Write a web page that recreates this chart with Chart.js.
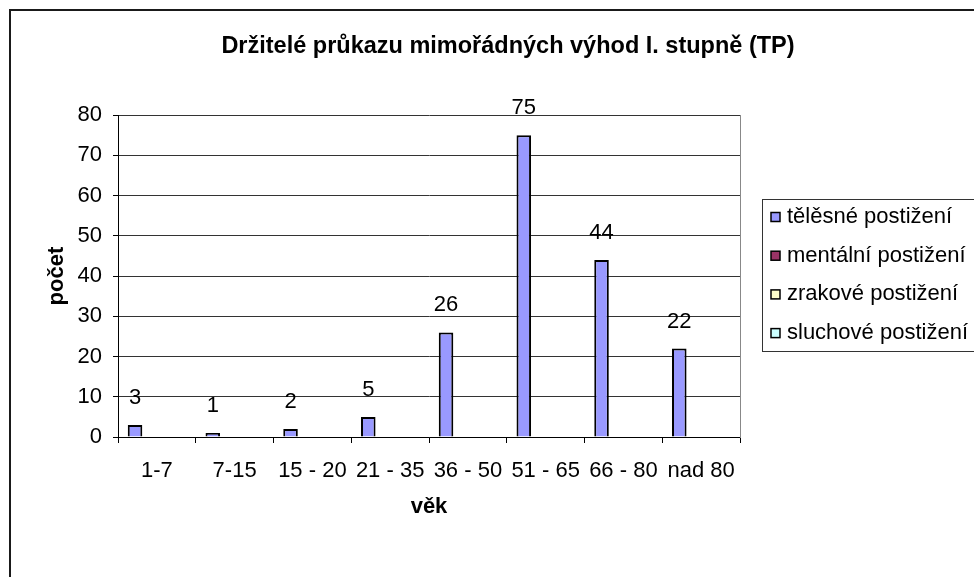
<!DOCTYPE html>
<html>
<head>
<meta charset="utf-8">
<script src="https://cdn.jsdelivr.net/npm/chart.js@4"></script>
<style>
  html, body { margin: 0; padding: 0; background: #fff; }
  #wrap { position: relative; width: 974px; height: 577px; }
</style>
</head>
<body>
<div id="wrap"><canvas id="chart" width="974" height="577"></canvas></div>
<script>
const categories = ["1-7", "7-15", "15 - 20", "21 - 35", "36 - 50", "51 - 65", "66 - 80", "nad 80"];
const telesne = [3, 1, 2, 5, 26, 75, 44, 22];
const mentalni = [null, null, null, null, null, null, null, null];
const zrakove = [null, null, null, null, null, null, null, null];
const sluchove = [null, null, null, null, null, null, null, null];
const seriesNames = ["tělěsné postižení", "mentální postižení", "zrakové postižení", "sluchové postižení"];
const seriesColors = ["#9999FF", "#993366", "#FFFFCC", "#CCFFFF"];
const yTicks = [0, 10, 20, 30, 40, 50, 60, 70, 80];

Chart.defaults.font.family = "'Liberation Sans', Arial, sans-serif";
Chart.defaults.color = "#000";

// white background and the outer chart frame
const frame = {
    id: "frame",
    beforeDraw(chart) {
        const ctx = chart.ctx;
        ctx.save();
        ctx.fillStyle = "#fff";
        ctx.fillRect(0, 0, chart.width, chart.height);
        ctx.strokeStyle = "#1a1a1a";
        ctx.lineWidth = 2;
        ctx.strokeRect(10, 10, 2000, 2000);
        ctx.restore();
    }
};

// numbers above the bars
const barLabels = {
    id: "barLabels",
    afterDatasetsDraw(chart) {
        const ctx = chart.ctx;
        ctx.save();
        ctx.font = "22px 'Liberation Sans', Arial, sans-serif";
        ctx.fillStyle = "#000";
        ctx.textAlign = "center";
        ctx.textBaseline = "middle";
        chart.data.datasets.forEach((ds, i) => {
            chart.getDatasetMeta(i).data.forEach((el, j) => {
                const v = ds.data[j];
                if (v === null || v === undefined) return;
                ctx.fillText(String(v), el.x, el.y - 27);
            });
        });
        ctx.restore();
    }
};

// legend box drawn in the space kept by the right axis
const boxLegend = {
    id: "boxLegend",
    afterDraw(chart) {
        const ctx = chart.ctx;
        const left = 762, top = 199, bottom = 351;
        ctx.save();
        ctx.strokeStyle = "#333";
        ctx.lineWidth = 1;
        ctx.strokeRect(left + 0.5, top + 0.5, 400, bottom - top);
        ctx.font = "22px 'Liberation Sans', Arial, sans-serif";
        ctx.textBaseline = "middle";
        ctx.textAlign = "left";
        chart.data.datasets.forEach((ds, i) => {
            const y = 217 + i * 38.7;
            ctx.fillStyle = ds.backgroundColor;
            ctx.fillRect(771, y - 4.5, 9, 9);
            ctx.strokeStyle = "#000";
            ctx.lineWidth = 1.5;
            ctx.strokeRect(771, y - 4.5, 9, 9);
            ctx.fillStyle = "#000";
            ctx.fillText(ds.label, 787, y);
        });
        ctx.restore();
    }
};

const datasets = [telesne, mentalni, zrakove, sluchove].map((d, i) => ({
    label: seriesNames[i],
    data: d,
    backgroundColor: seriesColors[i],
    borderColor: "#000",
    borderWidth: 2,
    borderSkipped: "bottom",
    categoryPercentage: 0.749,
    barPercentage: 1
}));

new Chart(document.getElementById("chart"), {
    type: "bar",
    data: { labels: categories, datasets: datasets },
    options: {
        responsive: false,
        animation: false,
        layout: { padding: { left: 42, right: 0, top: 0, bottom: 0 } },
        plugins: {
            legend: { display: false },
            tooltip: { enabled: false },
            title: {
                display: true,
                text: "Držitelé průkazu mimořádných výhod I. stupně (TP)",
                font: { size: 23.5, weight: "bold" },
                color: "#000",
                padding: { top: 32, bottom: 55 }
            }
        },
        scales: {
            x: {
                grid: { offset: true, drawOnChartArea: false, tickLength: 6, tickColor: "#000" },
                border: { color: "#000", width: 1 },
                ticks: { font: { size: 22 }, padding: 15, maxRotation: 0, autoSkip: false },
                title: { display: true, text: "věk", font: { size: 22, weight: "bold" }, padding: { top: 0, bottom: 57 } },
                afterFit: (s) => { s.height = 140; }
            },
            y: {
                min: 0,
                max: 80,
                afterBuildTicks: (s) => { s.ticks = yTicks.map((v) => ({ value: v })); },
                grid: { color: "#333", tickColor: "#000", tickLength: 5 },
                border: { color: "#000", width: 1 },
                ticks: { font: { size: 22 }, padding: 11 },
                title: { display: true, text: "počet", font: { size: 22, weight: "bold" }, padding: { top: 2, bottom: 0 } },
                afterFit: (s) => { s.width = 76; }
            },
            y2: {
                position: "right",
                min: 0,
                max: 80,
                grid: { display: false },
                border: { display: true, color: "#888", width: 1 },
                ticks: { display: false },
                afterFit: (s) => { s.width = 234; }
            }
        }
    },
    plugins: [frame, barLabels, boxLegend]
});
</script>
</body>
</html>
